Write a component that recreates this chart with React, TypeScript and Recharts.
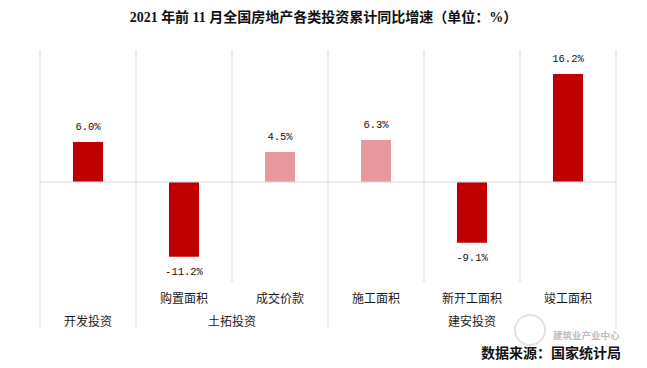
import React from 'react';
import { BarChart, Bar, XAxis, YAxis, CartesianGrid, ReferenceLine, LabelList, Cell } from 'recharts';

const subLabels = ['', '购置面积', '成交价款', '施工面积', '新开工面积', '竣工面积'];
const groups = ['开发投资', '土拓投资', '土拓投资', '建安投资', '建安投资', '建安投资'];
const values = [6.0, -11.2, 4.5, 6.3, -9.1, 16.2];
const highlight = [false, false, true, true, false, false];

const DARK = '#C00000';
const PINK = '#E8999F';
const GRID = '#D9D9D9';

const W = 647;
const H = 368;
const MARGIN = { top: 50, right: 31, left: 40, bottom: 36 };
const XAXIS_H = 50;
const PLOT_BOTTOM = H - MARGIN.bottom - XAXIS_H;
const BAND = (W - MARGIN.left - MARGIN.right) / subLabels.length;

const data = subLabels.map((s, i) => ({
  key: groups[i] + '|' + s,
  sub: s,
  group: groups[i],
  value: values[i],
  light: highlight[i],
}));

const CategoryTick = (props: any) => {
  const { x, index } = props;
  const i = index as number;
  const y = PLOT_BOTTOM;
  const els: React.ReactNode[] = [];
  els.push(
    <text key="s" x={x} y={y + 15} textAnchor="middle" dominantBaseline="central"
      fontFamily="'Noto Sans CJK SC', sans-serif" fontSize={12} fill="#1a1a1a">
      {subLabels[i]}
    </text>
  );
  const isFirst = i === 0 || groups[i - 1] !== groups[i];
  if (isFirst) {
    let span = 1;
    while (i + span < groups.length && groups[i + span] === groups[i]) span++;
    const left = x - BAND / 2;
    const cx = left + (span * BAND) / 2;
    els.push(
      <text key="g" x={cx} y={y + 38} textAnchor="middle" dominantBaseline="central"
        fontFamily="'Noto Sans CJK SC', sans-serif" fontSize={12} fill="#1a1a1a">
        {groups[i]}
      </text>
    );
    els.push(<line key="l" x1={left} x2={left} y1={y} y2={y + 47} stroke={GRID} strokeWidth={1} />);
  }
  if (i === groups.length - 1) {
    const right = x + BAND / 2;
    els.push(<line key="r" x1={right} x2={right} y1={y} y2={y + 47} stroke={GRID} strokeWidth={1} />);
  }
  return <g>{els}</g>;
};

const ValueLabel = (props: any) => {
  const { x, y, width, height, value } = props;
  const top = Math.min(y, y + height);
  const bottom = Math.max(y, y + height);
  const ty = value >= 0 ? top - 15 : bottom + 15;
  return (
    <text x={x + width / 2} y={ty} textAnchor="middle" dominantBaseline="central"
      fontFamily="'Liberation Mono', 'DejaVu Sans Mono', monospace" fontSize={10.5} fill="#111">
      {value.toFixed(1) + '%'}
    </text>
  );
};

export default function App() {
  return (
    <div style={{ position: 'absolute', left: 0, top: 0, width: W, height: H, background: '#fff' }}>
      <div style={{
        position: 'absolute', left: 0, top: 8, width: W, textAlign: 'center',
        fontFamily: "'Liberation Serif', 'Noto Sans CJK SC', serif", fontWeight: 'bold', fontSize: 14, lineHeight: '20px', color: '#111',
      }}>
        2021 年前 11 月全国房地产各类投资累计同比增速（单位：%）
      </div>
      <BarChart width={W} height={H} data={data} margin={MARGIN}>
        <CartesianGrid
          horizontal={false}
          stroke={GRID}
          verticalCoordinatesGenerator={({ offset }: any) =>
            Array.from({ length: subLabels.length + 1 }, (_, i) => offset.left + (i * offset.width) / subLabels.length)
          }
        />
        <XAxis dataKey="key" axisLine={false} tickLine={false} height={XAXIS_H} interval={0} tick={<CategoryTick />} />
        <YAxis hide domain={[-15, 19.8]} />
        <ReferenceLine y={0} stroke={GRID} strokeWidth={1} />
        <Bar dataKey="value" barSize={30} isAnimationActive={false}>
          {data.map((d, i) => (
            <Cell key={i} fill={d.light ? PINK : DARK} />
          ))}
          <LabelList dataKey="value" content={<ValueLabel />} />
        </Bar>
      </BarChart>
      <svg style={{ position: 'absolute', left: 0, top: 0, pointerEvents: 'none' }} width={W} height={H}>
        <circle cx={530} cy={330} r={15} fill="none" stroke="#e3e3e3" strokeWidth={2} />
      </svg>
      <div style={{
        position: 'absolute', left: 553, top: 330.5, fontFamily: "'Noto Sans CJK SC', sans-serif",
        fontSize: 9.5, lineHeight: '9px', color: '#bdbdbd', fontWeight: 'bold', whiteSpace: 'nowrap',
      }}>
        建筑业产业中心
      </div>
      <div style={{
        position: 'absolute', right: W - 621, top: 345, fontFamily: "'Noto Sans CJK SC', sans-serif",
        fontSize: 14, lineHeight: '14px', color: '#111', fontWeight: 'bold', whiteSpace: 'nowrap',
      }}>
        数据来源：国家统计局
      </div>
    </div>
  );
}
